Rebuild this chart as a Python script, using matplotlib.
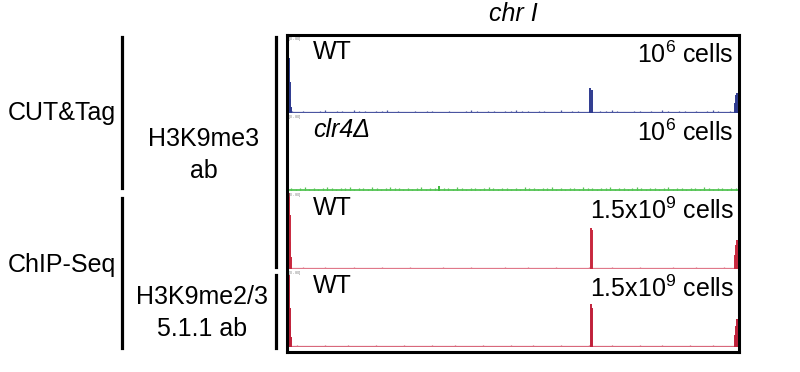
import numpy as np
import matplotlib
matplotlib.use("Agg")
from matplotlib import pyplot as plt

plt.rcParams['font.family'] = ['Liberation Sans', 'DejaVu Sans']
plt.rcParams['mathtext.fontset'] = 'custom'
plt.rcParams['mathtext.rm'] = 'Liberation Sans'
plt.rcParams['mathtext.it'] = 'Liberation Sans:italic'

# chromosome I length in kb, signal range of each track
chr_len = 5580
track_max = 80

track_names = ["WT", "clr4\u0394", "WT", "WT"]
track_cells = [r"$\mathrm{10^6}$ cells", r"$\mathrm{10^6}$ cells",
               r"$\mathrm{1.5x10^9}$ cells", r"$\mathrm{1.5x10^9}$ cells"]
track_colors = ["#2e3a8f", "#3fb83f", "#c8283e", "#c0203a"]
base_colors = ["#4a55a0", "#55c455", "#e0788a", "#d8687c"]

# background signal (evenly binned along the chromosome)
blue_noise = [2, 1, 2, 1, 1, 2, 3, 1, 2, 2, 1, 3, 2, 2, 1, 2, 2, 3, 1, 2,
              1, 1, 2, 1, 2, 2, 1, 1, 2, 1, 1, 2, 3, 2, 1, 2, 2, 1, 2, 2,
              3, 2, 2, 1, 2, 2, 1, 1, 3, 1, 2, 2, 1, 2, 1, 2, 2, 3, 2, 1,
              1, 2, 2, 1, 2, 1, 3, 2, 1, 2, 2, 1, 2, 1, 2, 3, 2, 1, 2, 2]
green_noise = [3, 2, 3, 4, 2, 3, 2, 3, 4, 3, 2, 3, 3, 4, 2, 3, 3, 2, 4, 3,
               2, 3, 4, 3, 3, 2, 3, 2, 3, 4, 2, 3, 3, 2, 3, 3, 2, 4, 3, 2,
               3, 3, 2, 3, 4, 3, 2, 3, 3, 2, 3, 2, 4, 3, 3, 2, 3, 3, 4, 2,
               3, 2, 3, 3, 2, 4, 3, 3, 2, 3, 3, 4, 2, 3, 3, 2, 3, 4, 3, 2,
               3, 3, 2, 3, 4, 2, 3, 3, 2, 3, 3, 2, 4, 3, 2, 3, 3, 2, 3, 3]
red3_noise = [1, 1, 2, 1, 1, 1, 2, 1, 1, 1, 1, 2, 1, 1, 1, 1, 2, 1, 1, 1,
              1, 2, 1, 1, 1, 1, 1, 2, 1, 1, 1, 1, 2, 1, 1, 1, 1, 1, 2, 1,
              1, 1, 2, 1, 1, 1, 1, 2, 1, 1, 1, 1, 1, 2, 1, 1, 1, 2, 1, 1,
              1, 1, 2, 1, 1, 1, 1, 1, 2, 1, 1, 1, 2, 1, 1, 1, 1, 2, 1, 1]
red4_noise = [1, 2, 1, 1, 1, 1, 2, 1, 1, 1, 2, 1, 1, 1, 1, 2, 1, 1, 1, 1,
              2, 1, 1, 1, 1, 2, 1, 1, 1, 2, 1, 1, 1, 1, 2, 1, 1, 1, 1, 2,
              1, 1, 1, 2, 1, 1, 1, 1, 2, 1, 1, 1, 1, 2, 1, 1, 1, 2, 1, 1,
              1, 1, 2, 1, 1, 1, 2, 1, 1, 1, 1, 2, 1, 1, 1, 2, 1, 1, 1, 1]
noise = [blue_noise, green_noise, red3_noise, red4_noise]

# peaks: positions (kb) and heights
peak_pos = [
    [0, 8, 16, 26, 3745, 3768, 5548, 5560, 5572],
    [1860],
    [0, 8, 16, 26, 3750, 3760, 5545, 5558, 5572],
    [0, 8, 16, 26, 3750, 3762, 5545, 5558, 5572],
]
peak_val = [
    [56, 32, 14, 6, 26, 24, 10, 18, 21],
    [5],
    [78, 55, 28, 12, 42, 40, 14, 25, 30],
    [74, 40, 22, 10, 44, 40, 12, 22, 29],
]

W, H = 800, 372
fig = plt.figure(figsize=(8, 3.72), dpi=100)

def fx(px):
    return px / W

def fy(py):
    return 1 - py / H

# outer frame
frame = fig.add_axes([fx(287), fy(352), fx(739) - fx(287), fy(35) - fy(352)])
frame.set_xticks([])
frame.set_yticks([])
frame.patch.set_alpha(0)
for s in frame.spines.values():
    s.set_linewidth(2.2)
frame.set_zorder(5)

baselines = [113, 191, 269, 347]
track_h = 78
for i in range(4):
    ax = fig.add_axes([fx(289), fy(baselines[i]), fx(738) - fx(289), track_h / H])
    ax.set_xlim(0, chr_len)
    ax.set_ylim(0, track_max)
    ax.axis("off")
    vals = noise[i]
    step = chr_len / len(vals)
    pos = np.arange(len(vals)) * step + step / 2
    ax.axhline(0.6, color=base_colors[i], lw=1.3 if i == 1 else 0.9)
    ax.vlines(pos, 0, vals, color=base_colors[i], lw=0.9)
    ax.vlines(peak_pos[i], 0, peak_val[i], color=track_colors[i], lw=1.4)
    ax.text(2, track_max - 2, "[0 - 80]", fontsize=2.5, color="#777777",
            ha="left", va="top")
    ax.text(fx(313), fy(baselines[i] - 61), track_names[i], transform=fig.transFigure,
            fontsize=18, ha="left", va="center",
            fontstyle="italic" if i == 1 else "normal")
    ax.text(fx(734), fy(baselines[i] - 58), track_cells[i], transform=fig.transFigure,
            fontsize=18, ha="right", va="center")

fig.text(fx(513), fy(14), "chr I", fontsize=18, fontstyle="italic",
         ha="center", va="center")

# group brackets
brackets = [(122, 37, 188), (122, 198, 348), (276, 37, 267), (276, 275, 348)]
for x, y0, y1 in brackets:
    fig.add_artist(plt.Line2D([fx(x), fx(x)], [fy(y0), fy(y1)], color="black", lw=2.3))

fig.text(fx(116), fy(113), "CUT&Tag", fontsize=18, ha="right", va="center")
fig.text(fx(116), fy(265), "ChIP-Seq", fontsize=18, ha="right", va="center")
fig.text(fx(204), fy(139), "H3K9me3", fontsize=18, ha="center", va="center")
fig.text(fx(204), fy(171), "ab", fontsize=18, ha="center", va="center")
fig.text(fx(202), fy(297), "H3K9me2/3", fontsize=18, ha="center", va="center")
fig.text(fx(202), fy(329), "5.1.1 ab", fontsize=18, ha="center", va="center")

fig.savefig("out.png", dpi=100)
